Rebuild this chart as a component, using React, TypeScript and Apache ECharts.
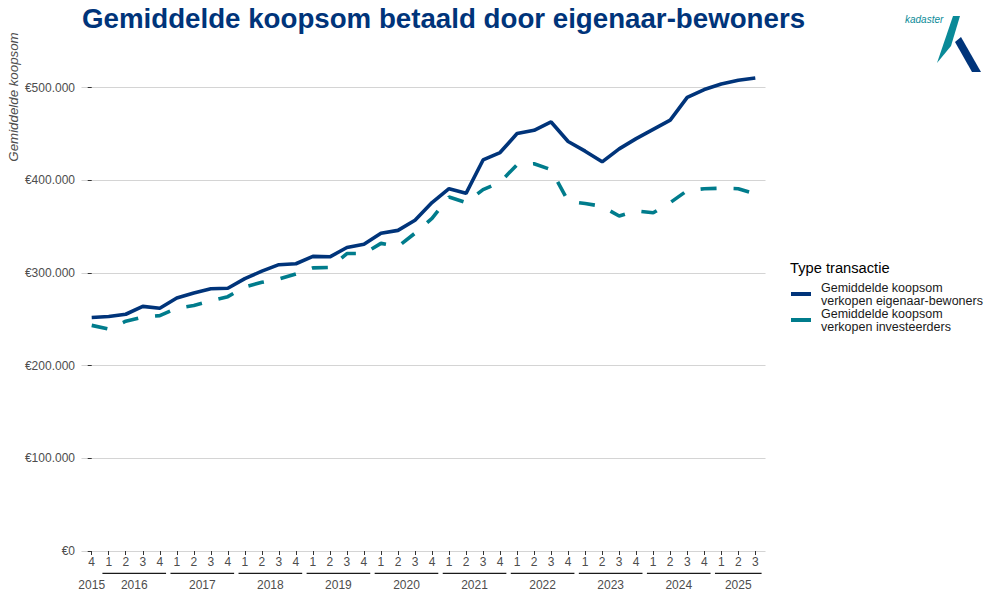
import React, { useEffect, useRef } from "react";
import * as echarts from "echarts";

const quarterLabels = [
  "4",
  "1", "2", "3", "4",
  "1", "2", "3", "4",
  "1", "2", "3", "4",
  "1", "2", "3", "4",
  "1", "2", "3", "4",
  "1", "2", "3", "4",
  "1", "2", "3", "4",
  "1", "2", "3", "4",
  "1", "2", "3", "4",
  "1", "2", "3",
];

const yearLabels = ["2015", "2016", "2017", "2018", "2019", "2020", "2021", "2022", "2023", "2024", "2025"];
// first and last quarter index of each year
const yearSpans = [
  [0, 0], [1, 4], [5, 8], [9, 12], [13, 16], [17, 20], [21, 24], [25, 28], [29, 32], [33, 36], [37, 39],
];

const eigenaarBewoners = [
  252000, 253000, 255500, 264000, 262000, 273000, 278500, 283000, 283500, 294000,
  302000, 309000, 310000, 318000, 317500, 327500, 331000, 343000, 346000, 357000,
  376000, 391000, 386000, 422000, 430000, 450500, 454000, 463000, 442000, 431500,
  420000, 434000, 445000, 455000, 465000, 489500, 498000, 504000, 508000, 510500,
];

const investeerders = [
  243500, 239500, 248000, 252500, 254000, 262000, 265000, 270000, 274500, 285000,
  290000, 293500, 299000, 305500, 306000, 321000, 321000, 332000, 328500, 343000,
  359000, 382000, 376000, 390000, 398000, 417000, 418000, 411500, 377500, 375000,
  372000, 361500, 367000, 365000, 376000, 389000, 391000, 391500, 391000, 385500,
];

const seriesNames = [
  "Gemiddelde koopsom\nverkopen eigenaar-bewoners",
  "Gemiddelde koopsom\nverkopen investeerders",
];

const FONT = "'Liberation Sans', Arial, sans-serif";
const NAVY = "#00347A";
const TEAL = "#007C8C";

function fmtEuro(v: number) {
  const s = Math.round(v).toString().replace(/\B(?=(\d{3})+(?!\d))/g, ".");
  return "€" + s;
}

export default function App() {
  const ref = useRef<HTMLDivElement>(null);
  useEffect(() => {
    if (!ref.current) return;
    const chart = echarts.init(ref.current, null, { renderer: "svg" });
    const idx = quarterLabels.map((_, i) => i);
    const yearCenters = yearSpans.map((s) => (s[0] + s[1]) / 2);
    const barSpans = yearSpans.filter((s) => s[1] > s[0]);

    const option: any = {
      animation: false,
      backgroundColor: "#ffffff",
      textStyle: { fontFamily: FONT },
      grid: { left: 81.5, right: 234.5, top: 87.7, bottom: 49, containLabel: false },
      xAxis: [
        {
          type: "value",
          min: -0.6,
          max: 39.6,
          splitLine: { show: false },
          axisLine: { show: false },
          axisTick: {
            show: true,
            customValues: idx,
            length: 4,
            lineStyle: { color: "#333333", width: 1 },
          },
          axisLabel: {
            customValues: idx,
            formatter: (v: number) => quarterLabels[Math.round(v)] ?? "",
            color: "#4D4D4D",
            fontSize: 12,
            margin: 5,
            fontFamily: FONT,
          },
        },
        {
          type: "value",
          min: -0.6,
          max: 39.6,
          position: "bottom",
          splitLine: { show: false },
          axisLine: { show: false },
          axisTick: { show: false },
          axisLabel: {
            customValues: yearCenters,
            formatter: (v: number) => {
              const k = yearCenters.findIndex((c) => Math.abs(c - v) < 1e-6);
              return k >= 0 ? yearLabels[k] : "";
            },
            color: "#4D4D4D",
            fontSize: 12,
            margin: 28,
            fontFamily: FONT,
          },
        },
      ],
      yAxis: {
        type: "value",
        min: 0,
        max: 500000,
        interval: 100000,
        axisLine: { show: false },
        axisTick: { show: true, length: 4, lineStyle: { color: "#333333", width: 1 } },
        axisLabel: {
          formatter: (v: number) => fmtEuro(v),
          color: "#4D4D4D",
          fontSize: 12,
          margin: 6.5,
          fontFamily: FONT,
        },
        splitLine: { show: true, lineStyle: { color: "#D4D4D4", width: 1.2 } },
      },
      legend: {
        orient: "vertical",
        left: 791,
        top: 281,
        padding: 0,
        itemGap: 0,
        itemWidth: 20,
        itemHeight: 4,
        textStyle: {
          fontSize: 12.5,
          lineHeight: 13,
          color: "#1A1A1A",
          fontFamily: FONT,
          padding: [0, 0, 0, 5],
        },
        data: [
          { name: seriesNames[0], icon: "rect", itemStyle: { color: NAVY } },
          { name: seriesNames[1], icon: "rect", itemStyle: { color: TEAL } },
        ],
      },
      series: [
        {
          name: seriesNames[0],
          type: "line",
          data: eigenaarBewoners.map((v, i) => [i, v]),
          symbol: "none",
          clip: false,
          color: NAVY,
          lineStyle: { color: NAVY, width: 3.6 },
          z: 3,
        },
        {
          name: seriesNames[1],
          type: "line",
          data: investeerders.map((v, i) => [i, v]),
          symbol: "none",
          clip: false,
          color: TEAL,
          lineStyle: { color: TEAL, width: 3.6, type: [16, 17], cap: "butt" },
          z: 2,
        },
        {
          type: "custom",
          silent: true,
          clip: false,
          xAxisIndex: 0,
          data: barSpans,
          renderItem: (_p: any, api: any) => {
            const a = api.coord([api.value(0) - 0.37, 0]);
            const b = api.coord([api.value(1) + 0.37, 0]);
            return {
              type: "line",
              shape: { x1: a[0], y1: a[1] + 22.3, x2: b[0], y2: b[1] + 22.3 },
              style: { stroke: "#1A1A1A", lineWidth: 1.3 },
            };
          },
        },
      ],
      graphic: [
        {
          type: "text",
          left: 82,
          top: 4,
          style: {
            text: "Gemiddelde koopsom betaald door eigenaar-bewoners",
            fill: NAVY,
            font: `bold 27.7px ${FONT}`,
          },
        },
        {
          type: "text",
          x: 13.5,
          y: 97,
          rotation: Math.PI / 2,
          style: {
            text: "Gemiddelde koopsom",
            fill: "#4D4D4D",
            font: `italic 13.3px ${FONT}`,
            align: "center",
            verticalAlign: "middle",
          },
        },
        {
          type: "text",
          x: 790,
          y: 268.2,
          style: {
            text: "Type transactie",
            fill: "#000000",
            font: `14.7px ${FONT}`,
            align: "left",
            verticalAlign: "middle",
          },
        },
        {
          type: "text",
          x: 905,
          y: 19,
          style: {
            text: "kadaster",
            fill: "#0A8A98",
            font: `italic 10px ${FONT}`,
            align: "left",
            verticalAlign: "middle",
          },
        },
        {
          type: "polygon",
          shape: { points: [[953, 16], [960, 16], [951, 46], [937, 63]] },
          style: { fill: "#0A8A98" },
        },
        {
          type: "polygon",
          shape: { points: [[955, 42], [961, 37], [981, 72], [972, 72]] },
          style: { fill: NAVY },
        },
      ],
    };
    chart.setOption(option);
    return () => chart.dispose();
  }, []);
  return (
    <div
      ref={ref}
      style={{ position: "fixed", left: 0, top: 0, width: 1000, height: 600 }}
    />
  );
}
